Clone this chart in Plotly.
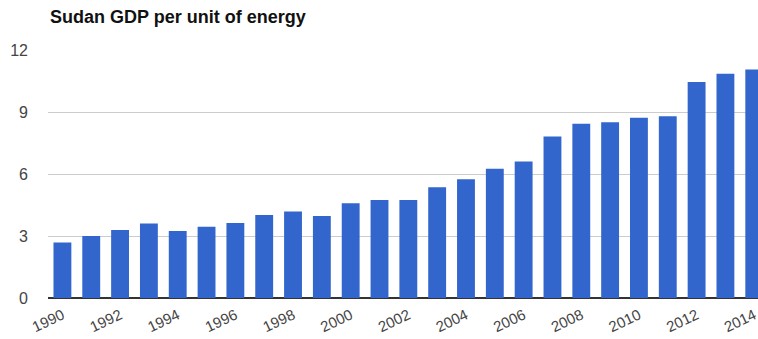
import plotly.graph_objects as go

years = [str(y) for y in range(1990, 2015)]
values = [2.68, 3.0, 3.29, 3.61, 3.24, 3.45, 3.63, 4.02, 4.19, 3.97,
          4.58, 4.74, 4.74, 5.36, 5.74, 6.26, 6.6, 7.82, 8.43, 8.5,
          8.72, 8.79, 10.45, 10.85, 11.06]
tick_years = [str(y) for y in range(1990, 2015, 2)]
y_ticks = [0, 3, 6, 9, 12]
title_text = "Sudan GDP per unit of energy"

fig = go.Figure(go.Bar(
    x=years, y=values,
    marker=dict(color="#3366cc", line=dict(width=0)),
))

fig.update_layout(
    width=758, height=339,
    margin=dict(l=48, r=0, t=50, b=41),
    paper_bgcolor="white", plot_bgcolor="white",
    bargap=0.38,
    showlegend=False,
    title=dict(text="<b>" + title_text + "</b>", x=50 / 758, xref="container",
               xanchor="left", y=1 - 17 / 339, yref="container", yanchor="middle",
               font=dict(family="Liberation Sans, Arial", size=18, color="#111")),
    font=dict(family="Liberation Sans, Arial", size=15, color="#444"),
)

fig.update_xaxes(
    type="category", range=[-0.5, 24.13],
    tickmode="array", tickvals=tick_years, ticktext=tick_years,
    tickangle=-25, ticks="", showgrid=False, showline=False,
    ticklabelstandoff=5,
    tickfont=dict(size=15, color="#444"),
)
fig.update_yaxes(
    range=[0, 12], tickvals=y_ticks, showgrid=True, gridcolor="#cccccc",
    gridwidth=1, zeroline=True, zerolinecolor="#333333", zerolinewidth=1.5,
    ticks="", ticklabelstandoff=19, showline=False,
    tickfont=dict(size=16, color="#444"),
)

fig.write_html("out.html")
